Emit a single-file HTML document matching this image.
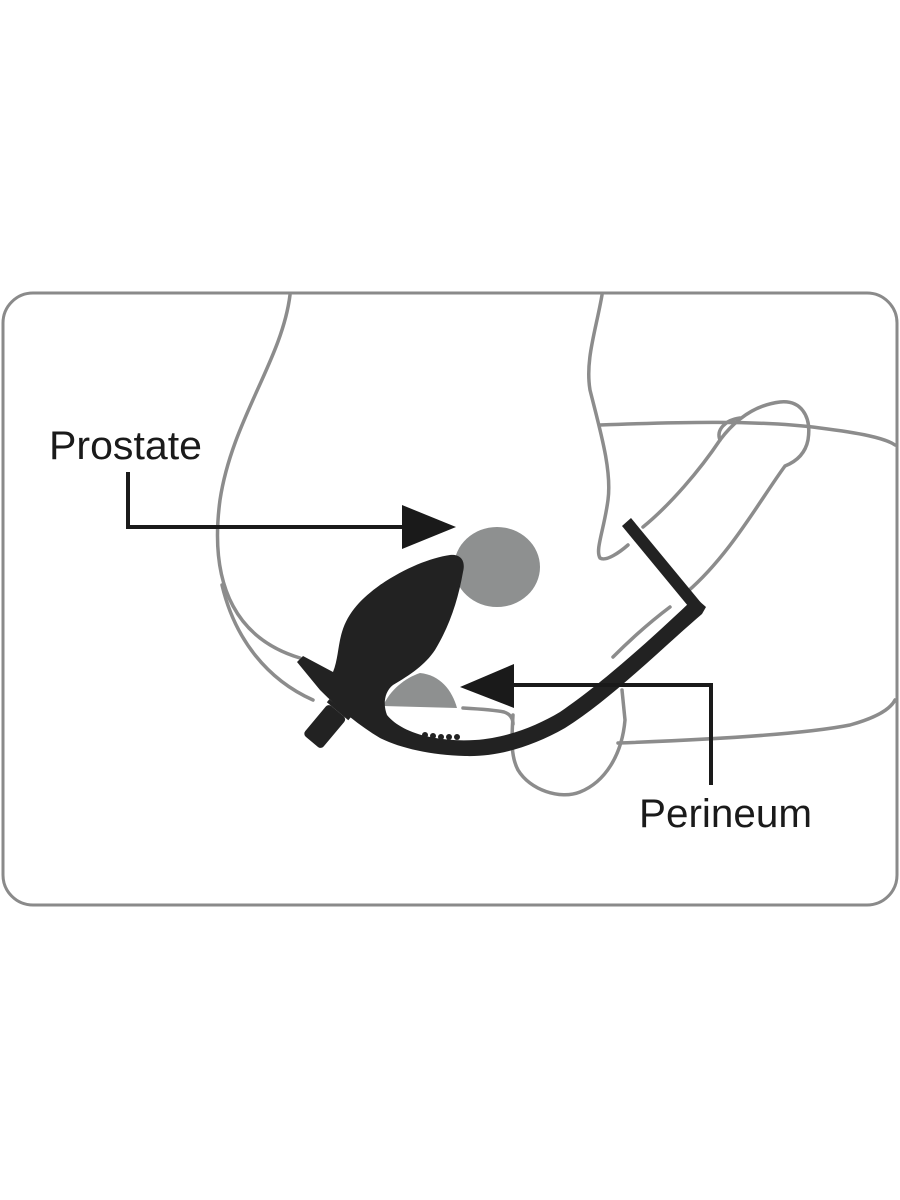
<!DOCTYPE html>
<html><head><style>
html,body{margin:0;padding:0;background:#fff;}
svg{display:block;}
text{font-family:"Liberation Sans",sans-serif;fill:#1a1a1a;}
</style></head><body>
<svg width="900" height="1200" viewBox="0 0 900 1200" xmlns="http://www.w3.org/2000/svg">
<rect x="3" y="293" width="894" height="612" rx="30" fill="#fff" stroke="#8a8a8a" stroke-width="3"/>
<g fill="none" stroke="#8c8c8c" stroke-width="3.5" stroke-linecap="round">
<path d="M290,295 C282,360 232,420 220,500 C208,590 240,640 300,658"/>
<path d="M222,585 C235,640 268,680 313,700"/>
<path d="M602,295 C596,330 585,360 590,390 C600,430 612,470 608,500 C604,530 595,550 600,558 C606,562 620,552 628,545"/>
<path d="M643,527 C670,505 700,470 720,440 C735,420 755,405 780,402 C800,400 812,415 808,440 C805,455 795,462 785,466 C760,500 730,555 687,592"/>
<path d="M720,440 C716,430 725,420 740,418"/>
<path d="M600,425 C680,422 760,420 820,428 C860,433 885,438 895,445"/>
<path d="M618,743 C700,740 800,735 850,725 C875,718 890,710 895,700"/>
<path d="M513,715 C512,735 510,755 518,770 C530,790 560,800 580,792 C605,782 622,755 625,720 L622,690"/>
<path d="M463,708 C480,709 495,710 504,712 C510,714 513,718 513,724"/>
<path d="M613,657 C630,640 650,622 670,607"/>
</g>
<ellipse cx="497" cy="567" rx="43" ry="40" fill="#8e9090"/>
<path d="M383,706 C390,690 405,678 420,673 C440,675 452,690 457,708 Z" fill="#8e9090"/>
<g fill="#222">
<path d="M297,662 L303,656 L333,672 C338,660 338,645 342,632 C348,612 362,598 380,585 C405,568 430,558 450,555 C460,554 466,560 463,572 C458,600 450,625 435,650 C425,665 410,675 393,685 C384,692 383,705 387,715 C395,725 410,733 430,737 C445,740 460,741 475,740 C505,738 535,727 560,712 C600,685 650,640 690,602 L698,600 L706,607 L702,614 C660,650 610,700 565,728 C530,748 495,757 465,756 C430,755 400,748 380,738 C360,726 340,710 320,690 Z"/>
<path d="M622,526 L631,518 L702,604 L693,612 Z"/>
<g transform="translate(326,725) rotate(-50)">
<rect x="-22" y="-12" width="40" height="24" rx="4"/>
<rect x="18" y="-14" width="4" height="28"/>
</g>
<circle cx="425" cy="735" r="3"/><circle cx="433" cy="736" r="3"/><circle cx="441" cy="737" r="3"/><circle cx="449" cy="737" r="3"/><circle cx="457" cy="737" r="3"/>
</g>
<g fill="none" stroke="#1a1a1a" stroke-width="4">
<path d="M128,472 L128,527 L410,527"/>
<path d="M510,685 L711,685 L711,785"/>
</g>
<path d="M402,505 L456,527 L402,549 Z" fill="#1a1a1a"/>
<path d="M460,687 L514,664 L514,708 Z" fill="#1a1a1a"/>
<text x="49" y="459" font-size="40" textLength="153" lengthAdjust="spacingAndGlyphs">Prostate</text>
<text x="639" y="827" font-size="40" textLength="173" lengthAdjust="spacingAndGlyphs">Perineum</text>
</svg>
</body></html>
